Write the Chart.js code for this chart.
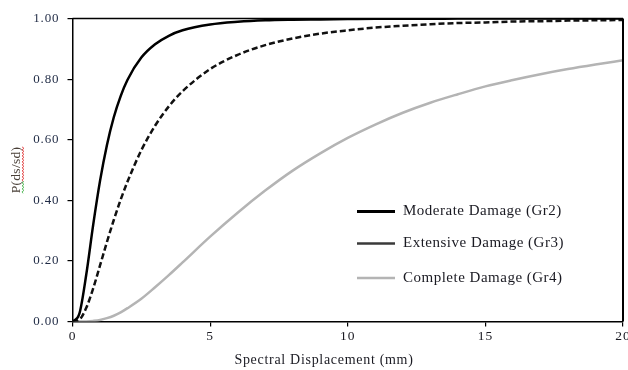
<!DOCTYPE html>
<html>
<head>
<meta charset="utf-8">
<script src="https://cdn.jsdelivr.net/npm/chart.js@4.4.0/dist/chart.umd.min.js"></script>
<style>
  html, body { margin: 0; padding: 0; overflow: hidden; background: #fff; width: 628px; height: 370px; }
  #wrap { width: 640px; height: 370px; }
</style>
</head>
<body>
<div id="wrap"><canvas id="chart" width="640" height="370"></canvas></div>
<script>
// Spectral displacement (mm) sample points
const sdValues = [0, 0.25, 0.5, 0.75, 1, 1.25, 1.5, 1.75, 2, 2.5, 3, 3.5, 4, 5, 6, 7, 8, 9, 10, 11, 12, 13, 14, 15, 16, 17, 18, 19, 20];

// P(ds/sd)
const moderate = [0, 0.026, 0.155, 0.318, 0.464, 0.582, 0.674, 0.744, 0.798, 0.871, 0.915, 0.943, 0.961, 0.980, 0.989, 0.994, 0.996, 0.997, 0.998, 0.999, 0.999, 0.999, 1, 1, 1, 1, 1, 1, 1];
const extensive = [0, 0.006, 0.045, 0.109, 0.185, 0.262, 0.335, 0.402, 0.462, 0.565, 0.646, 0.710, 0.760, 0.833, 0.880, 0.912, 0.934, 0.950, 0.961, 0.970, 0.976, 0.981, 0.985, 0.987, 0.990, 0.991, 0.993, 0.994, 0.995];
const complete = [0, 0, 0.0003, 0.002, 0.005, 0.011, 0.019, 0.030, 0.044, 0.075, 0.113, 0.153, 0.195, 0.280, 0.359, 0.432, 0.498, 0.555, 0.606, 0.650, 0.689, 0.722, 0.750, 0.776, 0.797, 0.816, 0.833, 0.848, 0.862];

const seriesLabels = ['Moderate Damage (Gr2)', 'Extensive Damage (Gr3)', 'Complete Damage (Gr4)'];
const xTicks = [0, 5, 10, 15, 20];
const yTicks = [0, 0.2, 0.4, 0.6, 0.8, 1.0];
const xTitle = 'Spectral Displacement (mm)';
const yTitle = 'P(ds/sd)';

function toPoints(values) {
    return sdValues.map((sd, i) => ({ x: sd, y: values[i] }));
}

const serif = '"Liberation Serif", "Times New Roman", serif';

// legend line styles (legend draws all of them solid)
const legendStyles = [
    { color: '#000000', width: 3, y: 211.5 },
    { color: '#3a3a3a', width: 2.4, y: 243.5 },
    { color: '#b4b4b4', width: 2.4, y: 278 }
];

const decorPlugin = {
    id: 'decor',
    beforeDraw(chart) {
        chart.ctx.letterSpacing = '0.9px';
    },
    afterDraw(chart) {
        const ctx = chart.ctx;
        const a = chart.chartArea;

        // top and right frame lines
        ctx.save();
        ctx.strokeStyle = '#000';
        ctx.lineWidth = 1.5;
        ctx.beginPath();
        ctx.moveTo(a.left, a.top);
        ctx.lineTo(a.right, a.top);
        ctx.stroke();
        ctx.lineWidth = 2;
        ctx.beginPath();
        ctx.moveTo(a.right, a.top);
        ctx.lineTo(a.right, a.bottom);
        ctx.stroke();
        ctx.restore();

        // legend inside plot
        ctx.save();
        ctx.font = '15px ' + serif;
        ctx.letterSpacing = '0.5px';
        ctx.fillStyle = '#1a1a22';
        ctx.textBaseline = 'middle';
        ctx.textAlign = 'left';
        legendStyles.forEach((s, i) => {
            ctx.strokeStyle = s.color;
            ctx.lineWidth = s.width;
            ctx.beginPath();
            ctx.moveTo(357, s.y);
            ctx.lineTo(395, s.y);
            ctx.stroke();
            ctx.fillText(seriesLabels[i], 403, s.y);
        });
        ctx.restore();

        // x axis title
        ctx.save();
        ctx.font = '14px ' + serif;
        ctx.letterSpacing = '0.7px';
        ctx.fillStyle = '#1a1a22';
        ctx.textAlign = 'center';
        ctx.textBaseline = 'alphabetic';
        ctx.fillText(xTitle, 324, 364);
        ctx.restore();

        // y axis title, rotated, with the spell-check squiggles
        ctx.save();
        ctx.translate(16, 170);
        ctx.rotate(-Math.PI / 2);
        ctx.font = '13.5px ' + serif;
        ctx.letterSpacing = '0.3px';
        ctx.fillStyle = '#4a4038';
        ctx.textAlign = 'center';
        ctx.textBaseline = 'middle';
        ctx.fillText(yTitle, 0, 0);
        const w = ctx.measureText(yTitle).width;
        const squiggle = (x0, x1, color) => {
            ctx.strokeStyle = color;
            ctx.lineWidth = 0.8;
            ctx.beginPath();
            let up = true;
            ctx.moveTo(x0, 7);
            for (let x = x0 + 1.5; x <= x1; x += 1.5) {
                ctx.lineTo(x, up ? 6 : 8);
                up = !up;
            }
            ctx.stroke();
        };
        squiggle(-w / 2, -w / 2 + 12, '#3cb043');
        squiggle(-w / 2 + 12, w / 2, '#e03030');
        ctx.restore();
    }
};

const ctx = document.getElementById('chart').getContext('2d');
const chart = new Chart(ctx, {
    type: 'line',
    data: {
        datasets: [
            {
                label: seriesLabels[0],
                data: toPoints(moderate),
                borderColor: '#000000',
                borderWidth: 2.5,
                order: 1
            },
            {
                label: seriesLabels[1],
                data: toPoints(extensive),
                borderColor: '#111111',
                borderWidth: 2.5,
                borderDash: [6, 3],
                order: 2
            },
            {
                label: seriesLabels[2],
                data: toPoints(complete),
                borderColor: '#b4b4b4',
                borderWidth: 2.5,
                order: 3
            }
        ]
    },
    options: {
        responsive: false,
        animation: false,
        layout: { padding: { left: 0, right: 17, top: 18.5, bottom: 0 } },
        elements: {
            point: { radius: 0 },
            line: { cubicInterpolationMode: 'monotone', fill: false }
        },
        plugins: {
            legend: { display: false },
            tooltip: { enabled: false }
        },
        scales: {
            x: {
                type: 'linear',
                min: 0,
                max: 20,
                afterFit(scale) { scale.height = 48.5; },
                afterBuildTicks(scale) { scale.ticks = xTicks.map(v => ({ value: v })); },
                grid: { drawOnChartArea: false, drawTicks: true, tickLength: 5, color: '#000', lineWidth: 1.2 },
                border: { display: true, color: '#000', width: 1.5 },
                ticks: {
                    padding: 2,
                    color: '#1a1a22',
                    font: { family: serif, size: 13.5 },
                    maxRotation: 0,
                    callback: v => String(v)
                }
            },
            y: {
                min: 0,
                max: 1,
                afterFit(scale) { scale.width = 72.5; },
                afterBuildTicks(scale) { scale.ticks = yTicks.map(v => ({ value: v })); },
                grid: { drawOnChartArea: false, drawTicks: true, tickLength: 5, color: '#000', lineWidth: 1.2 },
                border: { display: true, color: '#000', width: 1.5 },
                ticks: {
                    padding: 8,
                    color: '#1f2a44',
                    font: { family: serif, size: 13 },
                    callback: v => v.toFixed(2)
                }
            }
        }
    },
    plugins: [decorPlugin]
});
</script>
</body>
</html>
